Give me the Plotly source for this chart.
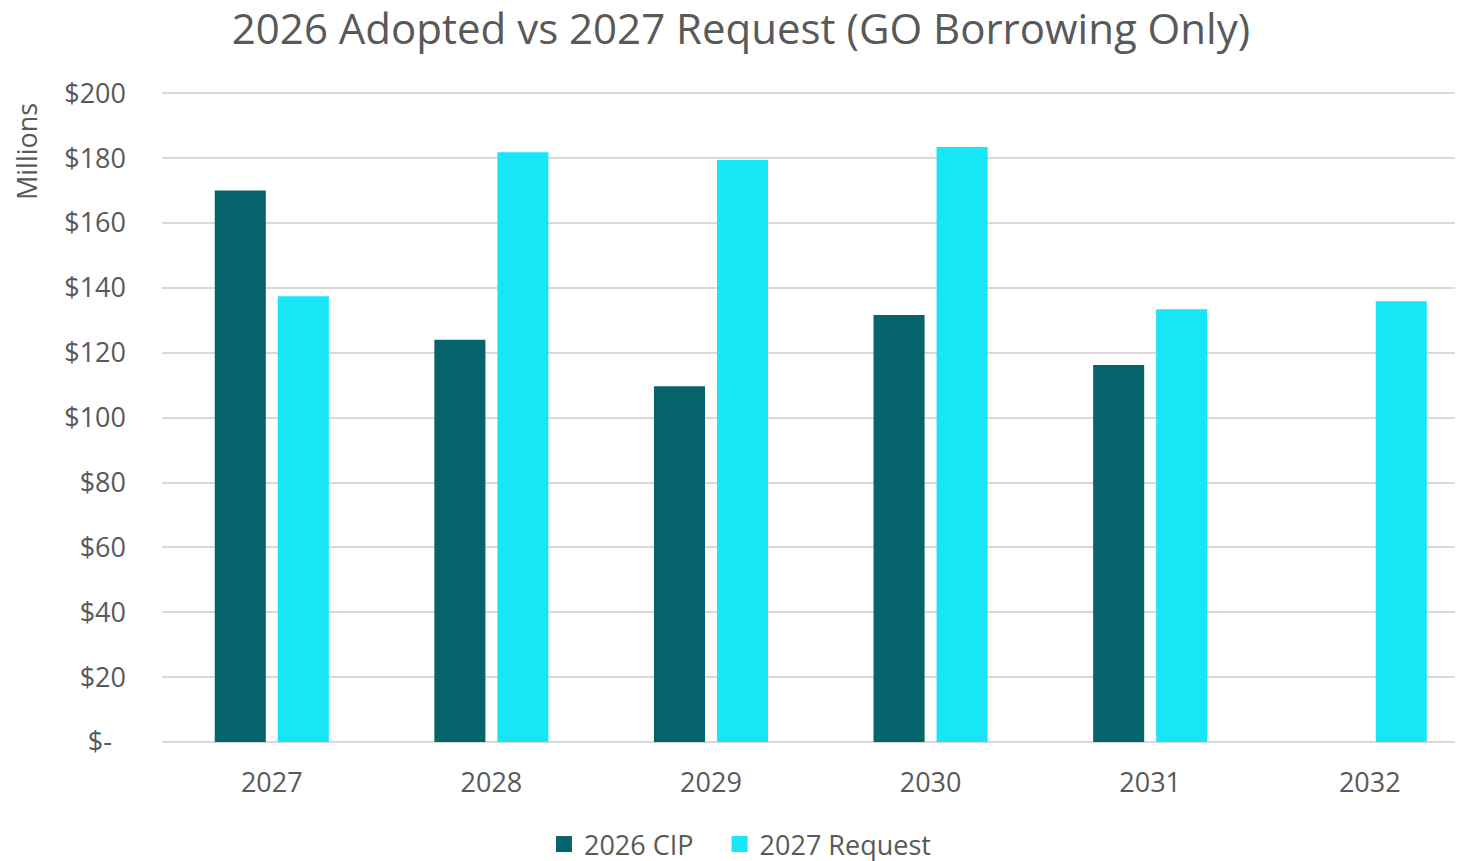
import plotly.graph_objects as go

years = ["2027", "2028", "2029", "2030", "2031", "2032"]
cip_2026 = [170.0, 124.0, 109.7, 131.6, 116.2, None]
request_2027 = [137.4, 181.8, 179.4, 183.4, 133.4, 135.9]
tick_vals = [0, 20, 40, 60, 80, 100, 120, 140, 160, 180, 200]
tick_text = ["$-\u00a0\u00a0", "$20", "$40", "$60", "$80", "$100", "$120", "$140", "$160", "$180", "$200"]
series_names = ["2026 CIP", "2027 Request"]

FONT = "Open Sans"
GREY = "#595959"
DARK = "#05636B"
CYAN = "#16E6F6"

fig = go.Figure()
fig.add_trace(go.Bar(x=years, y=cip_2026, name=series_names[0], marker_color=DARK,
                     marker_line_width=0, showlegend=False))
fig.add_trace(go.Bar(x=years, y=request_2027, name=series_names[1], marker_color=CYAN,
                     marker_line_width=0, showlegend=False))
# legend entries with larger square swatches (trailing spaces widen the gap between entries)
fig.add_trace(go.Scatter(x=[None], y=[None], mode="markers",
                         name=series_names[0] + "\u00a0\u00a0\u00a0",
                         marker=dict(symbol="square", size=19, color=DARK)))
fig.add_trace(go.Scatter(x=[None], y=[None], mode="markers", name=series_names[1],
                         marker=dict(symbol="square", size=19, color=CYAN)))

fig.update_layout(
    width=1463, height=861,
    margin=dict(l=154, r=0, t=82, b=127),
    paper_bgcolor="white", plot_bgcolor="white",
    barmode="group", bargap=0.426, bargroupgap=0.19,
    font=dict(family=FONT, color=GREY, size=28),
    title=dict(text="2026 Adopted vs 2027 Request (GO Borrowing Only)",
               x=0.501, xanchor="center", y=0.975, yanchor="middle",
               font=dict(family=FONT, size=42, color=GREY)),
    showlegend=True,
    legend=dict(orientation="h", x=0.2918, xanchor="left", y=-0.158, yanchor="middle",
                font=dict(size=27, color=GREY), itemwidth=30,
                traceorder="normal"),
    xaxis=dict(range=[-0.5, 5.461], showgrid=False, showline=False, ticks="",
               tickfont=dict(size=27, color=GREY), ticklabelstandoff=22),
    yaxis=dict(range=[0, 201], tickvals=tick_vals, ticktext=tick_text,
               showgrid=True, gridcolor="#D9D9D9", gridwidth=1.5,
               zeroline=True, zerolinecolor="#D9D9D9", zerolinewidth=1.5,
               showline=False, ticks="", tickfont=dict(size=27, color=GREY),
               ticklabelstandoff=35),
    annotations=[dict(text="Millions", xref="paper", yref="paper", x=-0.1031, y=0.905,
                      xanchor="center", yanchor="middle", textangle=-90, showarrow=False,
                      font=dict(size=27, color=GREY, family=FONT))],
)

fig.write_html("out.html")
